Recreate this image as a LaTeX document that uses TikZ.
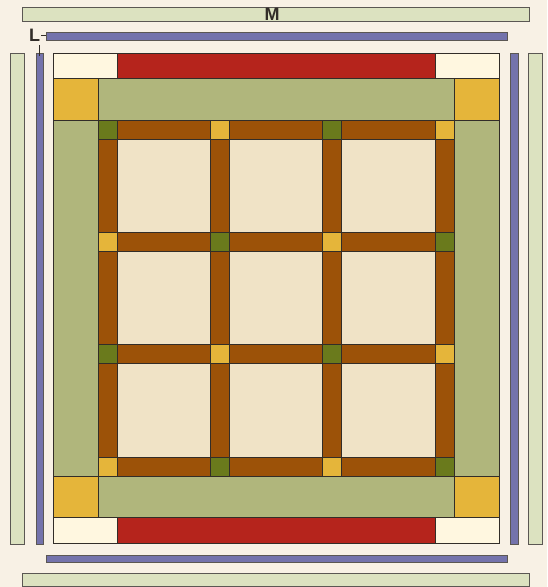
\documentclass[tikz,border=0pt]{standalone}
\usepackage{fontspec}
\setmainfont{Liberation Sans}
\usepackage{tikz}
\usetikzlibrary{positioning}
\usepackage{xcolor}
\definecolor{paper}{RGB}{248,241,229}
\definecolor{palegreen}{RGB}{220,226,192}
\definecolor{bandblue}{RGB}{116,115,172}
\definecolor{creamy}{RGB}{255,247,224}
\definecolor{quiltred}{RGB}{181,36,28}
\definecolor{gold}{RGB}{229,181,58}
\definecolor{sage}{RGB}{176,182,124}
\definecolor{olive}{RGB}{106,122,28}
\definecolor{rust}{RGB}{156,82,8}
\definecolor{blockcream}{RGB}{240,227,198}
\definecolor{edge}{RGB}{50,45,40}

\begin{document}
\begin{tikzpicture}[x=1pt, y=-1pt,
    patch/.style={draw=edge, line width=0.9pt},
    strip/.style={draw=edge!80, line width=1pt}]
        \fill[paper] (0,0) rectangle (547,587);
        \useasboundingbox (0,0) rectangle (547,587);

        % outer strips (M)
        \draw[strip, fill=palegreen] (22,7) rectangle (529,21);
        \draw[strip, fill=palegreen] (22,573) rectangle (529,586);
        \draw[strip, fill=palegreen] (10,53) rectangle (24,544);
        \draw[strip, fill=palegreen] (528,53) rectangle (542,544);

        % inner strips (L)
        \draw[strip, fill=bandblue] (46,32) rectangle (507,40);
        \draw[strip, fill=bandblue] (46,555) rectangle (507,562);
        \draw[strip, fill=bandblue] (36,53) rectangle (43,544);
        \draw[strip, fill=bandblue] (510,53) rectangle (518,544);

        % labels
        \node[font=\fontsize{18}{18}\selectfont\bfseries, text=edge, inner sep=0pt] (labM) at (272,14) {M};
        \node[font=\fontsize{18}{18}\selectfont\bfseries, text=edge, inner sep=0pt] (labL) at (34.5,35) {L};
        \coordinate (tipL) at (46,35);
        \coordinate (tipV) at (39.5,56);
        \draw[edge, line width=0.8pt] (labL.east) ++(1,0) -- (tipL);
        \draw[edge, line width=0.8pt] (39.5,45) -- (tipV);

        % top and bottom rows
        \draw[patch, fill=creamy] (53,53) rectangle (117,78);
        \draw[patch, fill=quiltred] (117,53) rectangle (435,78);
        \draw[patch, fill=creamy] (435,53) rectangle (499,78);
        \draw[patch, fill=creamy] (53,517) rectangle (117,543);
        \draw[patch, fill=quiltred] (117,517) rectangle (435,543);
        \draw[patch, fill=creamy] (435,517) rectangle (499,543);

        % border with corner squares
        \draw[patch, fill=gold] (53,78) rectangle (98,120);
        \draw[patch, fill=sage] (98,78) rectangle (454,120);
        \draw[patch, fill=gold] (454,78) rectangle (499,120);
        \draw[patch, fill=sage] (53,120) rectangle (98,476);
        \draw[patch, fill=sage] (454,120) rectangle (499,476);
        \draw[patch, fill=gold] (53,476) rectangle (98,517);
        \draw[patch, fill=sage] (98,476) rectangle (454,517);
        \draw[patch, fill=gold] (454,476) rectangle (499,517);

        % blocks
        \foreach \i in {0,1,2} {
          \foreach \j in {0,1,2} {
            \draw[patch, fill=blockcream]
              ({117+\i*112.33},{139+\j*112.33}) rectangle ++(93.33,93.33);
          }
        }
        % sashing
        \foreach \i in {0,1,2,3} {
          \foreach \j in {0,1,2} {
            \draw[patch, fill=rust]
              ({98+\i*112.33},{139+\j*112.33}) rectangle ++(19,93.33);
            \draw[patch, fill=rust]
              ({117+\j*112.33},{120+\i*112.33}) rectangle ++(93.33,19);
          }
        }
        % cornerstones
        \foreach \i in {0,1,2,3} {
          \foreach \j in {0,1,2,3} {
            \pgfmathtruncatemacro{\k}{mod(\i+\j,2)}
            \ifnum\k=0 \def\stone{olive}\else\def\stone{gold}\fi
            \draw[patch, fill=\stone]
              ({98+\i*112.33},{120+\j*112.33}) rectangle ++(19,19);
          }
        }
    \end{tikzpicture}
\end{document}
